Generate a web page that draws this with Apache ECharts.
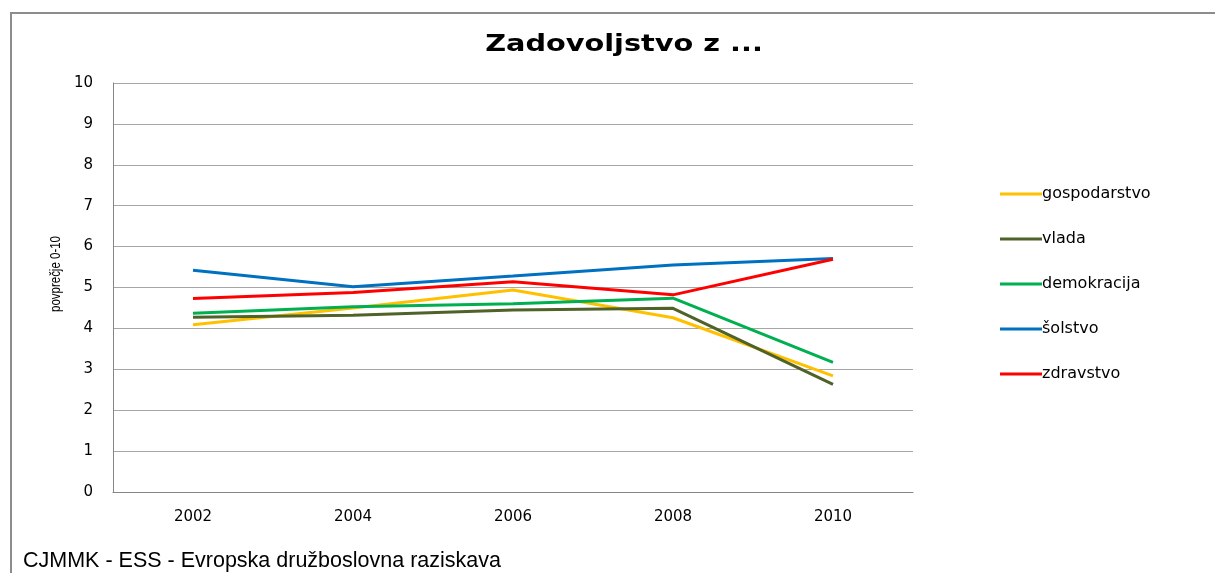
<!DOCTYPE html>
<html>
<head>
<meta charset="utf-8">
<script src="https://cdn.jsdelivr.net/npm/echarts@6/dist/echarts.min.js"></script>
<style>
  html, body { margin: 0; padding: 0; background: #fff; }
  #chart { width: 1215px; height: 573px; }
</style>
</head>
<body>
<div id="chart"></div>
<script>
// leta (kategorije)
const years = ["2002", "2004", "2006", "2008", "2010"];

// povprečja 0-10, odčitana s slike
const gospodarstvo = [4.09, 4.50, 4.94, 4.26, 2.84];
const vlada = [4.27, 4.32, 4.45, 4.49, 2.63];
const demokracija = [4.37, 4.53, 4.60, 4.74, 3.17];
const solstvo = [5.42, 5.02, 5.28, 5.55, 5.71];
const zdravstvo = [4.73, 4.88, 5.14, 4.82, 5.69];

// barve serij
const colors = ["#FFC000", "#4F6228", "#00B050", "#0070C0", "#FF0000"];

const seriesData = [
  { name: "gospodarstvo", data: gospodarstvo },
  { name: "vlada", data: vlada },
  { name: "demokracija", data: demokracija },
  { name: "šolstvo", data: solstvo },
  { name: "zdravstvo", data: zdravstvo },
];

const chart = echarts.init(document.getElementById("chart"));

const option = {
  animation: false,
  color: colors,
  legend: {
    orient: "vertical",
    left: 995,
    top: 181,
    icon: "rect",
    itemWidth: 42,
    itemHeight: 3,
    itemGap: 29,
    data: seriesData.map((s) => s.name),
    textStyle: {
      fontFamily: "DejaVu Sans",
      fontSize: 16,
      lineHeight: 16,
      color: "#000",
      padding: [0, 0, 0, -5],
    },
  },
  grid: {
    left: 113,
    right: 302,
    top: 83,
    bottom: 81,
  },
  xAxis: {
    type: "category",
    data: years,
    boundaryGap: true,
    axisLine: { lineStyle: { color: "#868686", width: 1 } },
    axisTick: { show: false },
    axisLabel: {
      margin: 18,
      fontFamily: "DejaVu Sans",
      fontSize: 15,
      color: "#000",
    },
  },
  yAxis: {
    type: "value",
    min: 0,
    max: 10,
    interval: 1,
    axisLine: { show: true, lineStyle: { color: "#868686", width: 1 } },
    axisTick: { show: false },
    splitLine: { lineStyle: { color: "#a6a6a6", width: 1 } },
    axisLabel: {
      margin: 20,
      fontFamily: "DejaVu Sans",
      fontSize: 15,
      color: "#000",
    },
  },
  series: seriesData.map((s) => ({
    name: s.name,
    type: "line",
    data: s.data,
    symbol: "none",
    lineStyle: { width: 3 },
  })),
  graphic: [
    {
      type: "rect",
      shape: { x: 11, y: 13, width: 1215, height: 600 },
      style: { fill: "none", stroke: "#8c8c8c", lineWidth: 2 },
    },
    // naslov
    {
      type: "text",
      x: 624,
      y: 45,
      scaleX: 1.25,
      style: {
        text: "Zadovoljstvo z ...",
        font: "bold 23px 'DejaVu Sans'",
        fill: "#000",
        align: "center",
        verticalAlign: "middle",
      },
    },
    // naslov osi y
    {
      type: "text",
      x: 56,
      y: 274,
      rotation: Math.PI / 2,
      scaleX: 0.82,
      style: {
        text: "povprečje 0-10",
        font: "14px 'Liberation Sans'",
        fill: "#000",
        align: "center",
        verticalAlign: "middle",
      },
    },
    // vir
    {
      type: "text",
      x: 23,
      y: 561,
      style: {
        text: "CJMMK - ESS - Evropska družboslovna raziskava",
        font: "21.5px 'Liberation Sans'",
        fill: "#000",
        align: "left",
        verticalAlign: "middle",
      },
    },
  ],
};

chart.setOption(option);
</script>
</body>
</html>
